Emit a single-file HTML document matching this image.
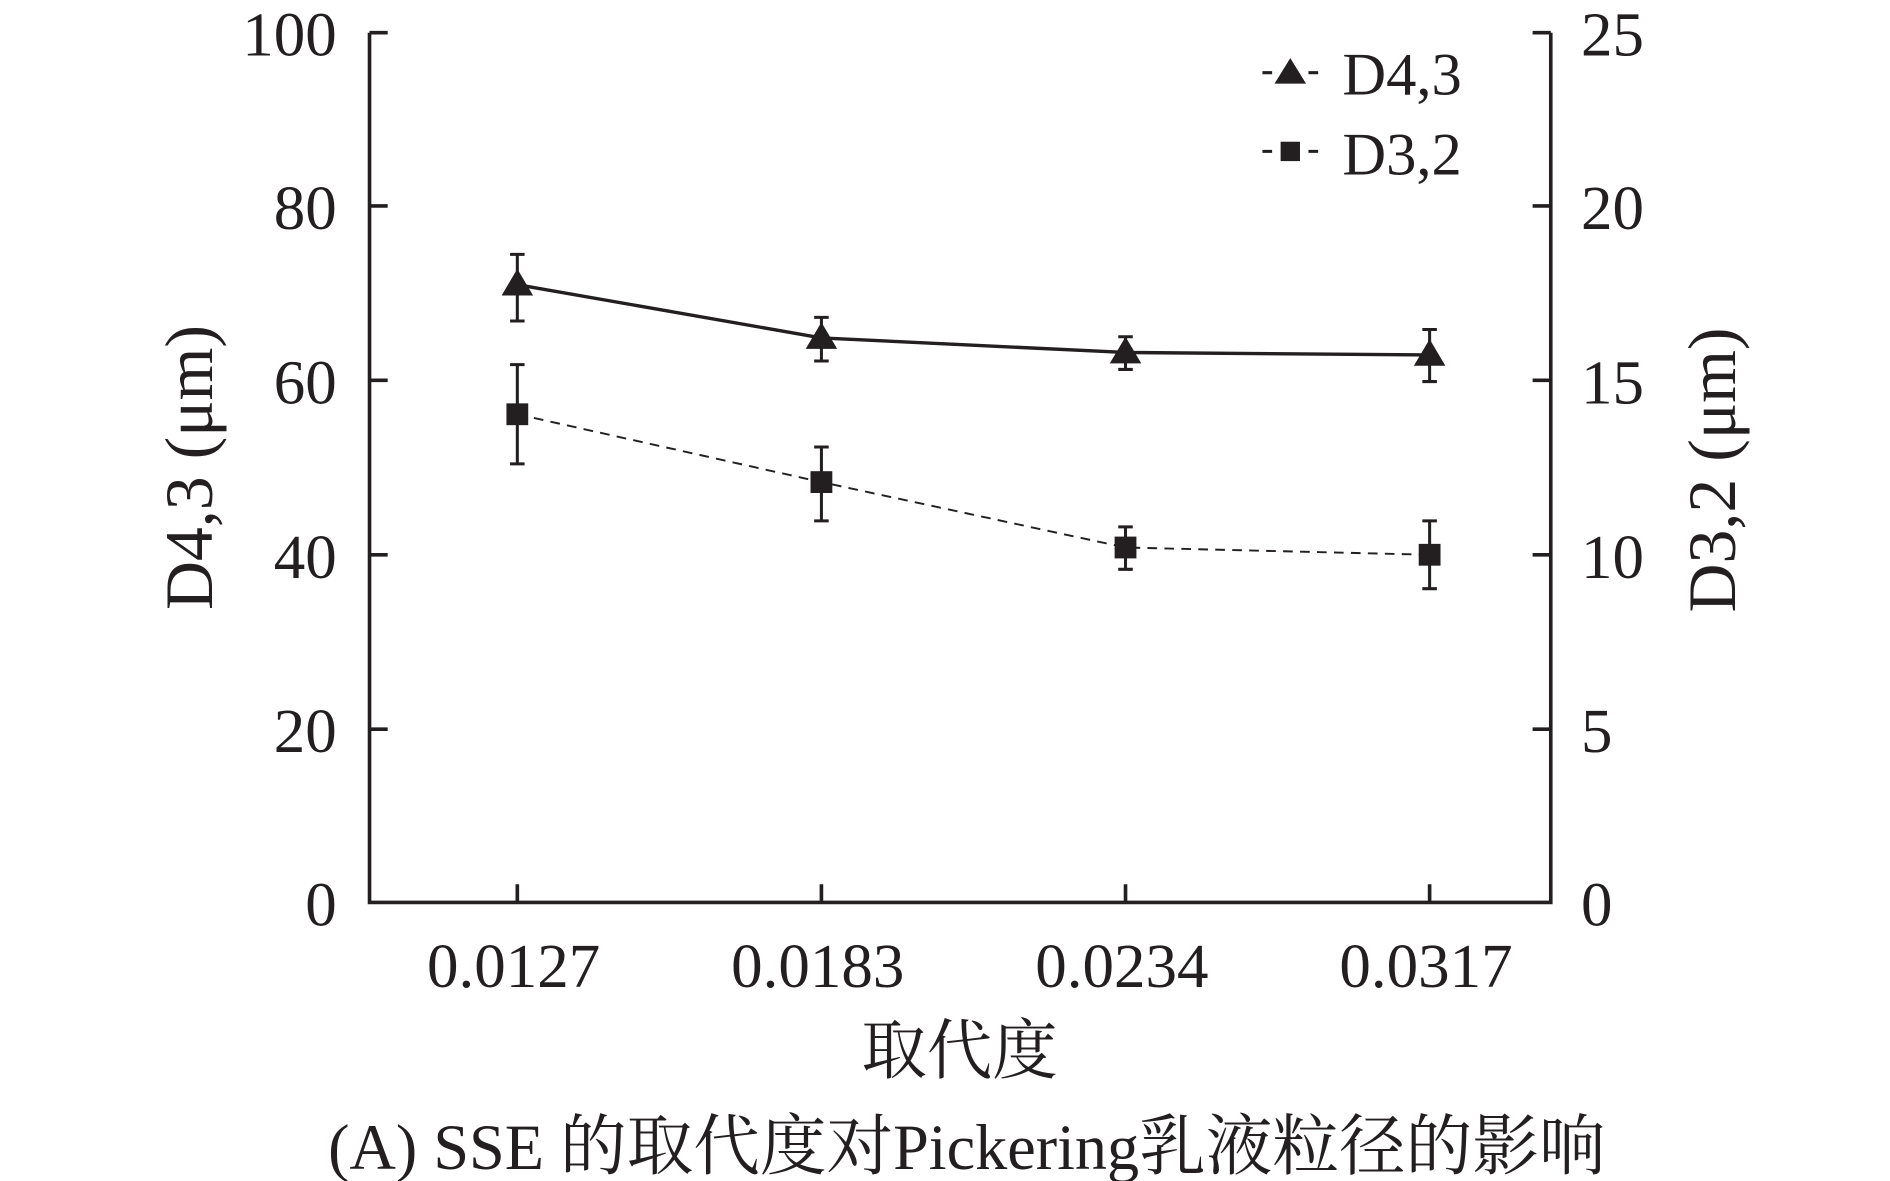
<!DOCTYPE html>
<html><head><meta charset="utf-8"><style>html,body{margin:0;padding:0;background:#fff}svg{display:block}</style></head>
<body>
<svg width="1890" height="1181" viewBox="0 0 1560 975" preserveAspectRatio="none" xmlns="http://www.w3.org/2000/svg" font-family="'Liberation Serif','Noto Serif CJK SC',serif" fill="#231f20">
<g stroke="#231f20" stroke-width="3" fill="none">
<polyline points="305,27 305,745 1280,745 1280,27"/>
<line x1="305" y1="27" x2="320" y2="27"/><line x1="305" y1="170" x2="320" y2="170"/><line x1="305" y1="314" x2="320" y2="314"/><line x1="305" y1="458" x2="320" y2="458"/><line x1="305" y1="602" x2="320" y2="602"/>
<line x1="1280" y1="27" x2="1265" y2="27"/><line x1="1280" y1="170" x2="1265" y2="170"/><line x1="1280" y1="314" x2="1265" y2="314"/><line x1="1280" y1="458" x2="1265" y2="458"/><line x1="1280" y1="602" x2="1265" y2="602"/>
<line x1="427" y1="745" x2="427" y2="730"/><line x1="678" y1="745" x2="678" y2="730"/><line x1="929" y1="745" x2="929" y2="730"/><line x1="1180" y1="745" x2="1180" y2="730"/>
</g>
<g stroke="#231f20" fill="none">
<polyline stroke-width="2.8" points="427,235 678,279 929,291 1180,293"/>
<polyline stroke-width="1.6" stroke-dasharray="8,6" points="427,342 678,398 929,452 1180,458"/>
<g stroke-width="2.5">
<path d="M427,210V265M421,210H433M421,265H433"/>
<path d="M678,262V298M672,262H684M672,298H684"/>
<path d="M929,278V305M923,278H935M923,305H935"/>
<path d="M1180,272V315M1174,272H1186M1174,315H1186"/>
<path d="M427,301V383M421,301H433M421,383H433"/>
<path d="M678,369V430M672,369H684M672,430H684"/>
<path d="M929,435V470M923,435H935M923,470H935"/>
<path d="M1180,430V486M1174,430H1186M1174,486H1186"/>
</g>
</g>
<g>
<path d="M427,222L440,244H414Z"/><path d="M678,266L691,288H665Z"/><path d="M929,278L942,300H916Z"/><path d="M1180,280L1193,302H1167Z"/>
<rect x="418" y="333" width="18" height="18"/><rect x="669" y="389" width="18" height="18"/><rect x="920" y="443" width="18" height="18"/><rect x="1171" y="449" width="18" height="18"/>
</g>
<g font-size="52" text-anchor="end">
<text x="278" y="46">100</text><text x="278" y="189">80</text><text x="278" y="333">60</text><text x="278" y="477">40</text><text x="278" y="621">20</text><text x="278" y="764">0</text>
</g>
<g font-size="52">
<text x="1305" y="46">25</text><text x="1305" y="189">20</text><text x="1305" y="333">15</text><text x="1305" y="477">10</text><text x="1305" y="621">5</text><text x="1305" y="764">0</text>
</g>
<g font-size="52" text-anchor="middle">
<text x="424" y="815">0.0127</text><text x="675" y="815">0.0183</text><text x="926" y="815">0.0234</text><text x="1177" y="815">0.0317</text>
<text x="792" y="886" font-size="54">取代度</text>
<text x="798" y="965" font-size="53">(A) SSE <tspan font-size="55">的取代度对</tspan>Pickering<tspan font-size="55">乳液粒径的影响</tspan></text>
<text transform="translate(175,386) rotate(-90)" font-size="56">D4,3 (μm)</text>
<text transform="translate(1432,388) rotate(-90)" font-size="56">D3,2 (μm)</text>
</g>
<g>
<path d="M1042,60h8M1080,60h8" stroke="#231f20" stroke-width="2.5"/>
<path d="M1065,48L1078,69H1052Z"/>
<path d="M1042,125h8M1080,125h8" stroke="#231f20" stroke-width="2.5"/>
<rect x="1057" y="117" width="16" height="16"/>
<text x="1108" y="78" font-size="50">D4,3</text>
<text x="1108" y="144" font-size="50">D3,2</text>
</g>
</svg>
</body></html>
